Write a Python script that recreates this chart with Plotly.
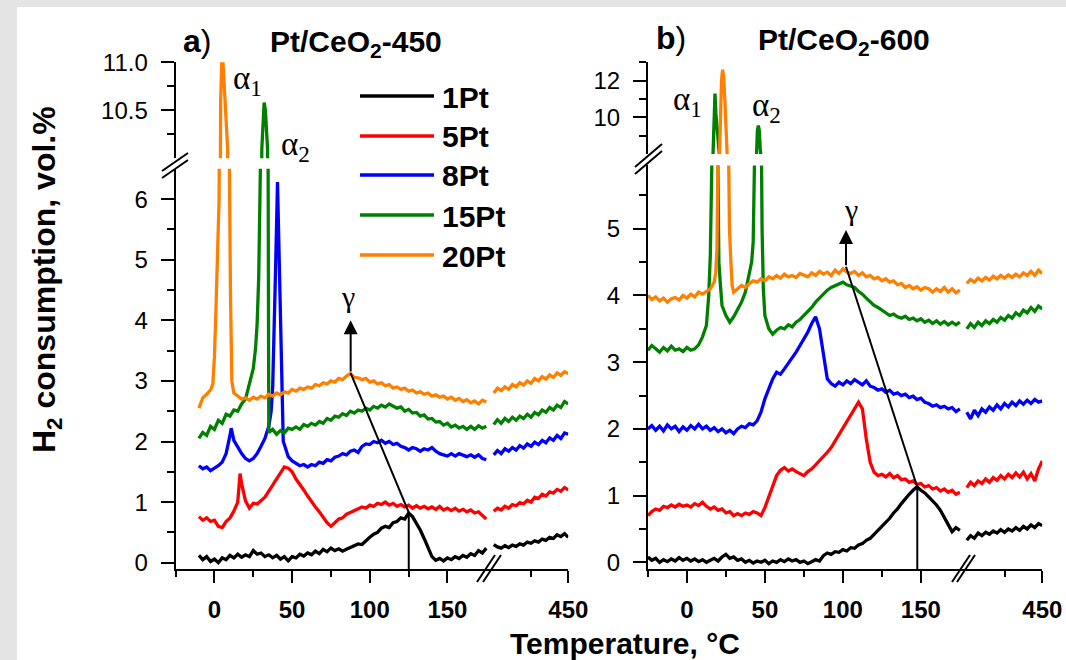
import plotly.graph_objects as go

W, H = 1066, 660


def px(x):
    return x / W


def py(y):
    return 1 - y / H


# ---------------- data ----------------
SERIES = ["1Pt", "5Pt", "8Pt", "15Pt", "20Pt"]
COLORS = ["#000000", "#ff0000", "#0000ff", "#008000", "#ff8000"]

# panel a) Pt/CeO2-450, low-temperature part (deg C)
TA = [-10, -7.5, -5, -2.5, 0, 2.5, 5, 7.5, 10, 12.5,
      15, 17.5, 20, 22.5, 25, 27.5, 30, 32.5, 35, 37.5,
      40, 42.5, 45, 47.5, 50, 52.5, 55, 57.5, 60, 62.5,
      65, 67.5, 70, 72.5, 75, 77.5, 80, 82.5, 85, 87.5,
      90, 92.5, 95, 97.5, 100, 102.5, 105, 107.5, 110, 112.5,
      115, 117.5, 120, 122.5, 125, 127.5, 130, 132.5, 135, 137.5,
      140, 142.5, 145, 147.5, 150, 152.5, 155, 157.5, 160, 162.5,
      165, 167.5, 170, 172.5, 175]

A_1PT = [0.12, 0.05, 0.10, 0.02, 0.06, 0.00, 0.08, 0.05, 0.12, 0.08,
         0.14, 0.09, 0.13, 0.10, 0.20, 0.14, 0.16, 0.10, 0.13, 0.08,
         0.12, 0.06, 0.10, 0.03, 0.10, 0.08, 0.14, 0.11, 0.16, 0.13,
         0.19, 0.15, 0.22, 0.18, 0.24, 0.20, 0.23, 0.19, 0.22, 0.25,
         0.27, 0.31, 0.30, 0.37, 0.42, 0.47, 0.50, 0.57, 0.60, 0.58,
         0.66, 0.68, 0.74, 0.72, 0.82, 0.76, 0.66, 0.54, 0.40, 0.25,
         0.10, 0.04, 0.07, 0.03, 0.08, 0.05, 0.10, 0.07, 0.12, 0.09,
         0.15, 0.12, 0.20, 0.16, 0.24]
A_5PT = [0.76, 0.70, 0.74, 0.68, 0.70, 0.60, 0.58, 0.68, 0.74, 0.85,
         1.00, 1.30, 1.02, 0.90, 0.98, 0.97, 1.03, 1.08, 1.18, 1.28,
         1.40, 1.50, 1.58, 1.56, 1.50, 1.38, 1.30, 1.20, 1.10, 1.00,
         0.92, 0.84, 0.75, 0.66, 0.60, 0.66, 0.72, 0.74, 0.80, 0.83,
         0.86, 0.88, 0.92, 0.90, 0.95, 0.93, 0.98, 0.96, 1.00, 0.95,
         0.98, 0.93, 0.96, 0.92, 0.95, 0.90, 0.94, 0.90, 0.93, 0.89,
         0.92, 0.88, 0.93, 0.87, 0.90, 0.86, 0.90, 0.85, 0.88, 0.84,
         0.87, 0.82, 0.84, 0.78, 0.72]
A_8PT = [1.60, 1.55, 1.58, 1.52, 1.56, 1.60, 1.66, 1.80, 2.10, 2.02,
         1.90, 1.80, 1.72, 1.68, 1.72, 1.80, 1.92, 2.05, 2.25, None,
         None, None, 1.95, 1.75, 1.68, 1.64, 1.60, 1.62, 1.58, 1.62,
         1.60, 1.66, 1.64, 1.70, 1.68, 1.74, 1.76, 1.80, 1.78, 1.84,
         1.86, 1.82, 1.92, 1.96, 1.95, 2.00, 1.98, 2.02, 1.97, 2.00,
         1.95, 1.97, 1.92, 1.90, 1.86, 1.90, 1.88, 1.84, 1.88, 1.86,
         1.90, 1.84, 1.80, 1.78, 1.76, 1.80, 1.76, 1.80, 1.78, 1.75,
         1.78, 1.74, 1.78, 1.72, 1.70]
A_15PT = [2.05, 2.15, 2.10, 2.25, 2.20, 2.35, 2.30, 2.45, 2.42, 2.52,
          2.50, 2.62, 2.70, 2.95, 3.20, None, None, None, 2.15, 2.20,
          2.12, 2.18, 2.14, 2.22, 2.20, 2.24, 2.20, 2.28, 2.25, 2.30,
          2.27, 2.33, 2.30, 2.38, 2.35, 2.42, 2.40, 2.46, 2.43, 2.50,
          2.47, 2.52, 2.50, 2.55, 2.52, 2.58, 2.55, 2.60, 2.57, 2.62,
          2.58, 2.55, 2.57, 2.50, 2.53, 2.47, 2.48, 2.42, 2.44, 2.37,
          2.38, 2.32, 2.33, 2.27, 2.30, 2.24, 2.27, 2.22, 2.25, 2.20,
          2.25, 2.20, 2.26, 2.22, 2.25]
A_20PT = [2.55, 2.72, 2.78, 2.85, None, None, None, None, None, 2.80,
          2.75, 2.70, 2.72, 2.68, 2.73, 2.70, 2.75, 2.72, 2.78, 2.75,
          2.80, 2.77, 2.82, 2.80, 2.86, 2.83, 2.88, 2.86, 2.90, 2.88,
          2.94, 2.92, 2.97, 2.95, 3.00, 2.98, 3.04, 3.02, 3.08, 3.12,
          3.06, 3.05, 3.02, 3.04, 2.98, 3.00, 2.95, 2.97, 2.92, 2.94,
          2.88, 2.90, 2.86, 2.88, 2.83, 2.85, 2.80, 2.82, 2.78, 2.80,
          2.75, 2.77, 2.73, 2.75, 2.70, 2.73, 2.68, 2.71, 2.66, 2.69,
          2.64, 2.67, 2.62, 2.68, 2.65]

# extra (peak) points of panel a
A_5PT_PK_T = [16.5]
A_5PT_PK_Y = [1.47]
A_8PT_PK_T = [10.8, 36.5, 37.5, 38.5, 39.5, 40.6, 41.5, 42.5, 43.5, 44.3]
A_8PT_PK_Y = [2.22, 2.5, 2.9, 3.8, 5.0, 6.28, 5.2, 3.6, 2.4, 2.0]
A_15PT_PK_T = [26.5, 27.5, 28.5, 29.5, 30, 30.5, 31.2, 32, 32.8, 33.5, 34.2, 34.5, 34.8]
A_15PT_PK_Y = [3.55, 3.95, 4.7, 6.2, 8.5, 10.1, 10.35, 10.58, 10.5, 10.35, 10.1, 6.0, 2.3]
A_20PT_PK_T = [-1, 0, 1, 2, 3, 3.5, 4, 4.8, 5.5, 6.5, 7.5, 8.5, 9, 9.5, 10.3, 11.2]
A_20PT_PK_Y = [2.95, 3.4, 4.2, 5.1, 6.0, 8.5, 10.6, 11.05, 11.0, 10.7, 10.4, 10.1, 8.0, 6.0, 4.5, 3.0]

# high-temperature part (after the axis break), both panels
TR = [250, 260, 270, 280, 290, 300, 310, 320, 330, 340,
      350, 360, 370, 380, 390, 400, 410, 420, 430, 440, 450]
AR_1PT = [0.30, 0.26, 0.24, 0.28, 0.25, 0.29, 0.27, 0.31, 0.29, 0.34,
          0.32, 0.36, 0.34, 0.39, 0.37, 0.42, 0.40, 0.46, 0.43, 0.48, 0.42]
AR_5PT = [0.85, 0.90, 0.87, 0.93, 0.90, 0.96, 0.94, 0.99, 0.97, 1.03,
          1.00, 1.08, 1.06, 1.13, 1.10, 1.17, 1.15, 1.21, 1.18, 1.24, 1.20]
AR_8PT = [1.78, 1.85, 1.80, 1.88, 1.84, 1.90, 1.86, 1.93, 1.89, 1.96,
          1.92, 1.99, 1.95, 2.02, 1.98, 2.06, 2.02, 2.10, 2.05, 2.14, 2.12]
AR_15PT = [2.28, 2.36, 2.30, 2.38, 2.33, 2.40, 2.35, 2.42, 2.38, 2.45,
           2.40, 2.48, 2.44, 2.52, 2.48, 2.56, 2.52, 2.60, 2.56, 2.66, 2.62]
AR_20PT = [2.80, 2.88, 2.84, 2.90, 2.86, 2.94, 2.90, 2.97, 2.93, 3.00,
           2.96, 3.04, 3.00, 3.07, 3.03, 3.10, 3.06, 3.13, 3.09, 3.15, 3.12]

# panel b) Pt/CeO2-600
TB = [-25, -22.5, -20, -17.5, -15, -12.5, -10, -7.5, -5, -2.5,
      0, 2.5, 5, 7.5, 10, 12.5, 15, 17.5, 20, 22.5,
      25, 27.5, 30, 32.5, 35, 37.5, 40, 42.5, 45, 47.5,
      50, 52.5, 55, 57.5, 60, 62.5, 65, 67.5, 70, 72.5,
      75, 77.5, 80, 82.5, 85, 87.5, 90, 92.5, 95, 97.5,
      100, 102.5, 105, 107.5, 110, 112.5, 115, 117.5, 120, 122.5,
      125, 127.5, 130, 132.5, 135, 137.5, 140, 142.5, 145, 147.5,
      150, 152.5, 155, 157.5, 160, 162.5, 165, 167.5, 170, 172.5,
      175]

B_1PT = [0.08, 0.03, 0.06, 0.00, 0.04, 0.01, 0.05, 0.02, 0.07, 0.03,
         0.06, 0.02, 0.05, 0.01, 0.04, 0.00, 0.03, 0.06, 0.02, 0.08,
         0.12, 0.06, 0.08, 0.03, 0.05, 0.00, 0.03, -0.01, 0.02, 0.00,
         0.03, -0.02, 0.02, 0.00, 0.04, 0.01, 0.05, 0.02, 0.04, 0.00,
         0.02, -0.02, 0.01, 0.04, 0.02, 0.10, 0.14, 0.12, 0.16, 0.15,
         0.19, 0.17, 0.22, 0.21, 0.26, 0.28, 0.33, 0.36, 0.42, 0.48,
         0.54, 0.60, 0.66, 0.74, 0.80, 0.88, 0.96, 1.02, 1.08, 1.13,
         1.08, 1.04, 0.98, 0.92, 0.86, 0.78, 0.68, 0.56, 0.46, 0.52,
         0.48]
B_5PT = [0.70, 0.76, 0.80, 0.78, 0.84, 0.82, 0.86, 0.83, 0.87, 0.84,
         0.86, 0.83, 0.88, 0.85, 0.90, 0.84, 0.80, 0.83, 0.78, 0.80,
         0.74, 0.76, 0.70, 0.73, 0.70, 0.74, 0.72, 0.76, 0.74, 0.70,
         0.82, 0.98, 1.15, 1.30, 1.38, 1.42, 1.37, 1.40, 1.36, 1.33,
         1.30, 1.36, 1.40, 1.46, 1.52, 1.58, 1.65, 1.72, 1.82, 1.90,
         2.00, 2.10, 2.20, 2.30, 2.40, 2.30, 1.85, 1.50, 1.35, 1.30,
         1.32, 1.28, 1.33, 1.27, 1.30, 1.24, 1.25, 1.20, 1.22, 1.17,
         1.18, 1.13, 1.15, 1.10, 1.12, 1.07, 1.10, 1.05, 1.08, 1.02,
         1.05]
B_8PT = [2.00, 2.05, 1.98, 2.04, 1.97, 2.06, 2.00, 2.04, 1.96, 2.03,
         1.98, 2.05, 2.00, 2.07, 2.00, 2.04, 1.98, 2.02, 1.96, 2.00,
         1.94, 1.98, 1.93, 2.00, 2.04, 2.02, 2.08, 2.06, 2.12, 2.25,
         2.45, 2.60, 2.75, 2.85, 2.82, 2.90, 2.98, 3.05, 3.15, 3.25,
         3.35, 3.45, 3.58, 3.68, 3.50, 3.10, 2.75, 2.68, 2.64, 2.70,
         2.66, 2.72, 2.68, 2.74, 2.70, 2.66, 2.72, 2.64, 2.62, 2.58,
         2.60, 2.55, 2.58, 2.52, 2.54, 2.50, 2.52, 2.47, 2.49, 2.44,
         2.46, 2.40, 2.38, 2.34, 2.36, 2.32, 2.34, 2.30, 2.32, 2.26,
         2.30]
B_15PT = [3.18, 3.25, 3.20, 3.15, 3.22, 3.17, 3.24, 3.18, 3.20, 3.16,
          3.22, 3.18, 3.20, 3.26, 3.38, 3.55, None, None, None, 3.85,
          3.70, 3.60, 3.68, 3.78, 3.90, 4.05, 4.30, None, None, None,
          3.70, 3.50, 3.42, 3.48, 3.52, 3.50, 3.56, 3.53, 3.60, 3.64,
          3.70, 3.76, 3.82, 3.90, 3.96, 4.02, 4.08, 4.12, 4.15, 4.18,
          4.20, 4.16, 4.14, 4.12, 4.06, 4.02, 3.96, 3.90, 3.85, 3.82,
          3.78, 3.74, 3.70, 3.72, 3.68, 3.66, 3.69, 3.64, 3.66, 3.62,
          3.65, 3.60, 3.63, 3.58, 3.62, 3.57, 3.61, 3.56, 3.60, 3.56,
          3.60]
B_20PT = [4.00, 3.94, 3.98, 3.92, 3.96, 3.90, 3.95, 3.97, 3.93, 4.00,
          3.96, 4.02, 3.98, 4.05, 4.02, 4.06, 4.10, None, None, None,
          None, None, 4.05, 4.10, 4.15, 4.12, 4.18, 4.22, 4.20, 4.25,
          4.22, 4.28, 4.25, 4.30, 4.26, 4.32, 4.28, 4.30, 4.27, 4.33,
          4.30, 4.28, 4.34, 4.30, 4.36, 4.32, 4.35, 4.30, 4.38, 4.33,
          4.40, 4.35, 4.33, 4.36, 4.30, 4.34, 4.28, 4.30, 4.25, 4.27,
          4.22, 4.25, 4.20, 4.22, 4.16, 4.18, 4.12, 4.15, 4.10, 4.13,
          4.08, 4.12, 4.10, 4.05, 4.10, 4.06, 4.12, 4.05, 4.10, 4.04,
          4.08]

B_15PT_PK_T = [14, 15, 16, 16.8, 17.5, 18, 18.6, 19.2, 19.8, 20.5, 21.5,
               41.5, 42.5, 43.3, 44, 44.6, 45.2, 45.8, 46.4, 47, 47.6, 48.2, 49]
B_15PT_PK_Y = [4.0, 4.6, 6.0, 8.5, 10.5, 11.3, 10.2, 7.5, 5.5, 4.5, 4.15,
               4.5, 4.8, 5.4, 6.5, 8.3, 9.3, 9.55, 9.3, 8.3, 6.5, 5.0, 4.1]
B_20PT_PK_T = [17.5, 18.5, 19.3, 20.2, 20.8, 21.5, 22.2, 22.9, 23.6, 24.4,
               25.2, 25.9, 26.5, 27.3, 28.2, 29]
B_20PT_PK_Y = [4.2, 4.35, 4.7, 5.8, 8.0, 10.5, 12.0, 12.6, 12.2, 10.8,
               9.2, 8.0, 6.2, 5.0, 4.5, 4.15]

BR_1PT = [0.33, 0.40, 0.36, 0.44, 0.40, 0.45, 0.42, 0.47, 0.44, 0.49,
          0.45, 0.50, 0.47, 0.52, 0.48, 0.54, 0.50, 0.56, 0.52, 0.58, 0.55]
BR_5PT = [1.12, 1.20, 1.15, 1.22, 1.18, 1.25, 1.20, 1.27, 1.23, 1.30,
          1.25, 1.32, 1.27, 1.34, 1.28, 1.35, 1.25, 1.33, 1.22, 1.40, 1.52]
BR_8PT = [2.25, 2.15, 2.28, 2.20, 2.30, 2.25, 2.33, 2.28, 2.36, 2.30,
          2.38, 2.33, 2.40, 2.35, 2.42, 2.37, 2.43, 2.38, 2.44, 2.40, 2.42]
BR_15PT = [3.50, 3.58, 3.52, 3.60, 3.55, 3.62, 3.58, 3.64, 3.60, 3.67,
           3.63, 3.70, 3.66, 3.74, 3.70, 3.78, 3.74, 3.82, 3.76, 3.84, 3.80]
BR_20PT = [4.18, 4.24, 4.20, 4.26, 4.22, 4.27, 4.23, 4.29, 4.25, 4.30,
           4.26, 4.31, 4.27, 4.32, 4.28, 4.34, 4.30, 4.36, 4.30, 4.38, 4.33]

# gamma-peak marker positions (T, H2)
GAMMA_A = dict(peak=(125.1, 0.83), bend=(87.7, 3.13), tip=(87.7, 4.0))
GAMMA_B = dict(peak=(147.7, 1.13), bend=(102.0, 4.43), tip=(102.0, 4.98))


def merge(grid, vals, et=(), ev=()):
    pts = [(t, v) for t, v in zip(grid, vals) if v is not None] + list(zip(et, ev))
    pts.sort(key=lambda p: p[0])
    return [p[0] for p in pts], [p[1] for p in pts]


SANS = "Liberation Sans, Arial, sans-serif"
SERIF = "Liberation Serif, Times New Roman, serif"
LW = 3.3

fig = go.Figure()

panel_a = [
    (A_1PT, (), (), AR_1PT),
    (A_5PT, A_5PT_PK_T, A_5PT_PK_Y, AR_5PT),
    (A_8PT, A_8PT_PK_T, A_8PT_PK_Y, AR_8PT),
    (A_15PT, A_15PT_PK_T, A_15PT_PK_Y, AR_15PT),
    (A_20PT, A_20PT_PK_T, A_20PT_PK_Y, AR_20PT),
]
panel_b = [
    (B_1PT, (), (), BR_1PT),
    (B_5PT, (), (), BR_5PT),
    (B_8PT, (), (), BR_8PT),
    (B_15PT, B_15PT_PK_T, B_15PT_PK_Y, BR_15PT),
    (B_20PT, B_20PT_PK_T, B_20PT_PK_Y, BR_20PT),
]

for grid, panel, axes in [(TA, panel_a, ("x", "y", "y2", "x2")),
                          (TB, panel_b, ("x3", "y3", "y4", "x4"))]:
    xl, ylo, yup, xr = axes
    for name, color, (vals, et, ev, right) in zip(SERIES, COLORS, panel):
        t, v = merge(grid, vals, et, ev)
        ln = dict(color=color, width=LW)
        fig.add_trace(go.Scatter(x=t, y=v, mode="lines", line=ln, name=name,
                                 xaxis=xl, yaxis=ylo, showlegend=False))
        fig.add_trace(go.Scatter(x=t, y=v, mode="lines", line=ln, name=name,
                                 xaxis=xl, yaxis=yup, showlegend=False))
        fig.add_trace(go.Scatter(x=TR, y=right, mode="lines", line=ln, name=name,
                                 xaxis=xr, yaxis=ylo, showlegend=False))

# ---------------- axes ----------------
base = dict(showgrid=False, zeroline=False, showline=True, linewidth=2, automargin=False,
            linecolor="black", ticks="outside", tickwidth=2, tickcolor="black")
xfont = dict(family=SANS, size=24, color="black", weight="bold")
yfont = dict(family=SANS, size=24, color="black")


def xminor(vals):
    return dict(tickmode="array", tickvals=vals, ticks="outside", ticklen=6,
                tickwidth=2, tickcolor="black")


def yminor(vals):
    return dict(tickmode="array", tickvals=vals, ticks="outside", ticklen=7,
                tickwidth=2, tickcolor="black")


layout = dict(
    width=W, height=H, autosize=False, margin=dict(l=0, r=0, t=0, b=0, pad=0),
    paper_bgcolor="white", plot_bgcolor="rgba(0,0,0,0)", showlegend=False,
    # panel a
    xaxis=dict(base, domain=[px(175.6), px(490)], range=[-25, 177.4], anchor="y",
               tickmode="array", tickvals=[0, 50, 100, 150], ticklen=12,
               tickfont=xfont, ticklabelstandoff=6, minor=xminor([-25, 25, 75, 125])),
    xaxis2=dict(base, domain=[px(490), px(568.3)], range=[240, 450], anchor="y",
                tickmode="array", tickvals=[450], ticklen=12, tickfont=xfont,
                ticklabelstandoff=6, minor=xminor([350])),
    yaxis=dict(base, domain=[py(569), py(168.8)], range=[-0.104, 6.5], anchor="x",
               tickmode="array", tickvals=[0, 1, 2, 3, 4, 5, 6], ticklen=13,
               tickfont=yfont, ticklabelstandoff=8,
               minor=yminor([0.5, 1.5, 2.5, 3.5, 4.5, 5.5])),
    yaxis2=dict(base, domain=[py(158.3), py(62.3)], range=[10.0, 11.0], anchor="x",
                tickmode="array", tickvals=[10.5, 11.0], ticktext=["10.5", "11.0"],
                ticklen=13, tickfont=yfont, ticklabelstandoff=8,
                minor=yminor([10.25, 10.75])),
    # panel b
    xaxis3=dict(base, domain=[px(647.9), px(963)], range=[-25, 177], anchor="y3",
                tickmode="array", tickvals=[0, 50, 100, 150], ticklen=12,
                tickfont=xfont, ticklabelstandoff=6, minor=xminor([-25, 25, 75, 125])),
    xaxis4=dict(base, domain=[px(963), px(1042.3)], range=[240, 450], anchor="y3",
                tickmode="array", tickvals=[450], ticklen=12, tickfont=xfont,
                ticklabelstandoff=6, minor=xminor([350])),
    yaxis3=dict(base, domain=[py(569), py(165.4)], range=[-0.1, 5.95], anchor="x3",
                tickmode="array", tickvals=[0, 1, 2, 3, 4, 5], ticklen=13,
                tickfont=yfont, ticklabelstandoff=8,
                minor=yminor([0.5, 1.5, 2.5, 3.5, 4.5, 5.5])),
    yaxis4=dict(base, domain=[py(153.9), py(62.4)], range=[8, 13], anchor="x3",
                tickmode="array", tickvals=[10, 12], ticklen=13, tickfont=yfont,
                ticklabelstandoff=8, minor=yminor([9, 11, 13])),
)
fig.update_layout(**layout)

# ---------------- decorations ----------------
GRAY = "#e4e4e4"
shapes = [
    dict(type="rect", xref="paper", yref="paper", x0=0, x1=px(17), y0=0, y1=1,
         fillcolor=GRAY, line=dict(width=0), layer="below"),
    dict(type="rect", xref="paper", yref="paper", x0=0, x1=1, y0=py(7), y1=1,
         fillcolor=GRAY, line=dict(width=0), layer="below"),
]


def seg(x0, y0, x1, y1, xref="paper", yref="paper", w=2):
    if xref == "paper":
        x0, x1 = px(x0), px(x1)
    if yref == "paper":
        y0, y1 = py(y0), py(y1)
    return dict(type="line", xref=xref, yref=yref, x0=x0, y0=y0, x1=x1, y1=y1,
                line=dict(color="black", width=w))


# axis-break marks
for (a, b, c, d) in [(162, 178, 188, 160), (162, 171, 188, 153),
                     (635, 174, 662, 151), (635, 167, 662, 144),
                     (477, 582, 495, 555), (483, 582, 501, 555),
                     (952, 582, 970, 555), (957, 582, 975, 555)]:
    shapes.append(seg(a, b, c, d))

# gamma guide lines
shapes.append(seg(GAMMA_A["peak"][0], -0.104, *GAMMA_A["peak"], xref="x", yref="y"))
shapes.append(seg(*GAMMA_A["peak"], *GAMMA_A["bend"], xref="x", yref="y"))
shapes.append(seg(GAMMA_B["peak"][0], -0.1, *GAMMA_B["peak"], xref="x3", yref="y3"))
shapes.append(seg(*GAMMA_B["peak"], *GAMMA_B["bend"], xref="x3", yref="y3"))

# legend sample lines
LEG_Y = [96, 136, 175, 215, 255]
for yy, col in zip(LEG_Y, COLORS):
    shapes.append(dict(type="line", xref="paper", yref="paper", x0=px(360), x1=px(434),
                       y0=py(yy), y1=py(yy), line=dict(color=col, width=3.5)))

fig.update_layout(shapes=shapes)


def txt(text, x, y, size, family=SANS, xanchor="left", yanchor="middle", angle=0):
    return dict(text=text, x=px(x), y=py(y), xref="paper", yref="paper",
                xanchor=xanchor, yanchor=yanchor, showarrow=False, textangle=angle,
                font=dict(family=family, size=size, color="black"))


ann = [
    txt("<b>a</b>)", 181, 41, 32),
    txt("<b>Pt/CeO<sub>2</sub>-450</b>", 268, 44, 30),
    txt("<b>b</b>)", 654, 38, 32),
    txt("<b>Pt/CeO<sub>2</sub>-600</b>", 756, 41, 30),
    txt("α<sub>1</sub>", 231, 80, 33, SERIF),
    txt("α<sub>2</sub>", 279, 147, 33, SERIF),
    txt("α<sub>1</sub>", 671, 101, 33, SERIF),
    txt("α<sub>2</sub>", 750, 108, 33, SERIF),
    txt("γ", 348, 297, 30, SERIF, xanchor="center"),
    txt("γ", 851, 209, 30, SERIF, xanchor="center"),
    txt("<b>H<sub>2</sub> consumption, vol.%</b>", 46, 280, 32, xanchor="center", angle=-90),
    txt("<b>Temperature, °C</b>", 625, 643, 30, xanchor="center"),
]
for yy, name in zip(LEG_Y, SERIES):
    ann.append(txt("<b>" + name + "</b>", 440, yy + 1, 30))

for g, xr, yr in [(GAMMA_A, "x", "y"), (GAMMA_B, "x3", "y3")]:
    ann.append(dict(x=g["tip"][0], y=g["tip"][1], ax=g["bend"][0], ay=g["bend"][1],
                    xref=xr, yref=yr, axref=xr, ayref=yr, text="", showarrow=True,
                    arrowhead=2, arrowsize=1.4, arrowwidth=2, arrowcolor="black",
                    standoff=0, startstandoff=0))

fig.update_layout(annotations=ann)

fig.write_html(
    "out.html",
    config={"displayModeBar": False},
    post_script="document.body.style.margin='0';document.body.style.padding='0';"
                "document.body.style.overflow='hidden';"
                "document.documentElement.style.overflow='hidden';",
)
